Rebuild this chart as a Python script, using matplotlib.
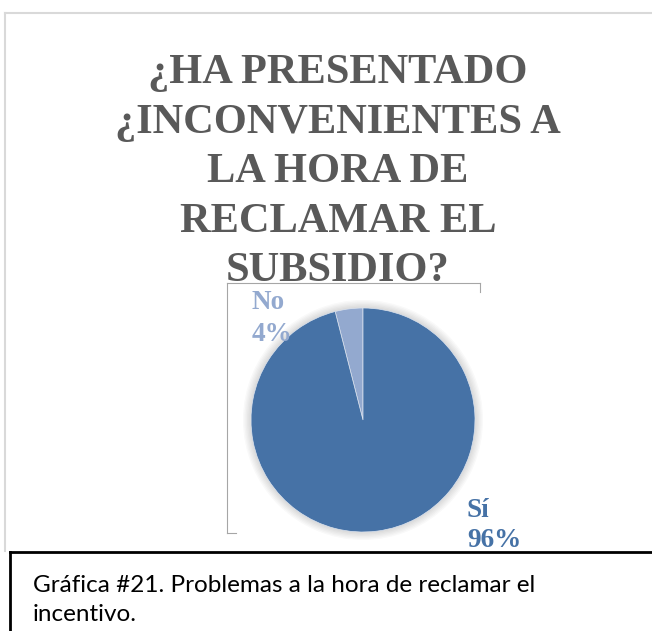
import matplotlib.pyplot as plt
from matplotlib.patches import Circle
from matplotlib.lines import Line2D

# datos de la grafica
categorias = ['No', 'Sí']
porcentajes = [4, 96]
colores = ['#93A9CF', '#4672A6']
titulo = ['¿HA PRESENTADO', '¿INCONVENIENTES A', 'LA HORA DE', 'RECLAMAR EL', 'SUBSIDIO?']
pie_de_grafica = 'Gráfica #21. Problemas a la hora de reclamar el\nincentivo.'

W, H = 652, 631
fig = plt.figure(figsize=(W / 100, H / 100), dpi=100)
fig.patch.set_facecolor('white')

def px(x, y):  # pixeles -> fraccion de figura
    return x / W, 1 - y / H

# marco gris del area de la grafica
fig.add_artist(Line2D([5 / W, 1], [1 - 13 / H] * 2, color='#D9D9D9', lw=1.5))
fig.add_artist(Line2D([5 / W] * 2, [1 - 13 / H, 1 - 551 / H], color='#D9D9D9', lw=1.5))

# titulo, una linea a la vez
for i, linea in enumerate(titulo):
    fig.text(*px(338, 83 + 49.5 * i), linea, ha='center', va='baseline',
             family='Liberation Serif', fontweight='bold', fontsize=30.5, color='#595959')

# marco fino del area del trazado (encima del titulo)
fig.add_artist(Line2D([227 / W, 480 / W], [1 - 283 / H] * 2, color='#A6A6A6', lw=0.8))
fig.add_artist(Line2D([480 / W] * 2, [1 - 283 / H, 1 - 292 / H], color='#A6A6A6', lw=0.8))
fig.add_artist(Line2D([227 / W] * 2, [1 - 283 / H, 1 - 533 / H], color='#A6A6A6', lw=0.8))
fig.add_artist(Line2D([227 / W, 236 / W], [1 - 533 / H] * 2, color='#A6A6A6', lw=0.8))

# pastel
cx, cy, r = 363, 420, 112
ax = fig.add_axes([(cx - r) / W, (H - cy - r) / H, 2 * r / W, 2 * r / H])
# sombra suave alrededor del pastel
for k in range(6):
    ax.add_patch(Circle((0, 0), 1.0 + 0.012 * (k + 1), color='black', alpha=0.025,
                        lw=0, zorder=0, clip_on=False))
ax.pie(porcentajes, colors=colores, startangle=90, counterclock=True,
       wedgeprops=dict(linewidth=0.5, edgecolor='#DDE4EF', zorder=2))
ax.set_xlim(-1, 1)
ax.set_ylim(-1, 1)
ax.axis('off')

# etiquetas de datos
etiq_pos = [(252, 309, 341), (467, 517, 547)]
for cat, val, col, (x, y1, y2) in zip(categorias, porcentajes, colores, etiq_pos):
    fig.text(*px(x, y1), cat, ha='left', va='baseline', family='Liberation Serif',
             fontweight='bold', fontsize=19.5, color=col)
    fig.text(*px(x, y2), f'{val}%', ha='left', va='baseline', family='Liberation Serif',
             fontweight='bold', fontsize=19.5, color=col)

# cuadro del pie de grafica
fig.add_artist(Line2D([10 / W, 1], [1 - 552 / H] * 2, color='black', lw=2))
fig.add_artist(Line2D([10 / W] * 2, [1 - 552 / H, 0], color='black', lw=2))
fig.text(*px(33, 600), pie_de_grafica, ha='left', va='center',
         family=['Lato', 'DejaVu Sans'], fontsize=17.5, color='black',
         linespacing=1.5)

fig.savefig('out.png', dpi=100, facecolor='white')
